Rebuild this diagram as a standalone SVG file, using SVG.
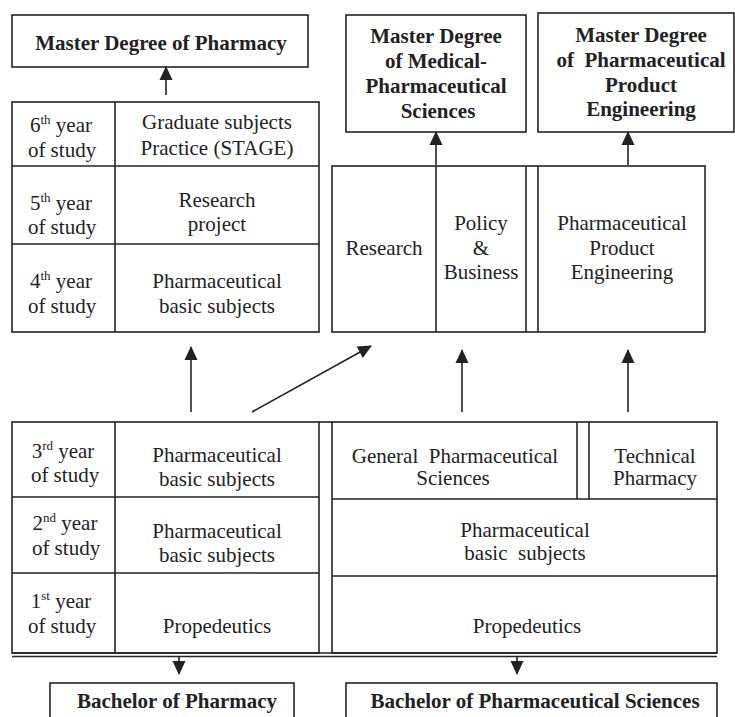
<svg xmlns="http://www.w3.org/2000/svg" width="735" height="717" viewBox="0 0 735 717">
<style>
.b{fill:#fff;stroke:#222;stroke-width:1.6}
.l{fill:none;stroke:#222;stroke-width:1.6}
.t{font-family:"Liberation Serif","Times New Roman",serif;font-size:21px;fill:#222;text-anchor:middle}
.h{font-family:"Liberation Serif","Times New Roman",serif;font-size:21px;font-weight:bold;fill:#222;text-anchor:middle}
.s{font-size:13px}
.a{fill:none;stroke:#222;stroke-width:1.6;marker-end:url(#ah)}
</style>
<defs>
<marker id="ah" markerUnits="userSpaceOnUse" markerWidth="14" markerHeight="14" viewBox="0 0 14 14" refX="13" refY="7" orient="auto">
<path d="M0,0.5 L14,7 L0,13.5 Z" fill="#222"/>
</marker>
</defs>
<rect width="735" height="717" fill="#fff"/>

<g id="master-pharmacy">
<rect class="b" x="12" y="15" width="296" height="52"/>
<text class="h" x="161" y="50">Master Degree of Pharmacy</text>
</g>

<g id="master-medical">
<rect class="b" x="346" y="15" width="180" height="117"/>
<text class="h" x="436" y="43">Master Degree</text>
<text class="h" x="436" y="68">of Medical-</text>
<text class="h" x="436" y="93">Pharmaceutical</text>
<text class="h" x="438" y="118">Sciences</text>
</g>

<g id="master-engineering">
<rect class="b" x="538" y="13" width="196" height="119"/>
<text class="h" x="641" y="42">Master Degree</text>
<text class="h" x="641" y="67" xml:space="preserve">of  Pharmaceutical</text>
<text class="h" x="641" y="92">Product</text>
<text class="h" x="641" y="116">Engineering</text>
</g>

<g id="pharmacy-upper">
<rect class="b" x="12" y="102" width="307" height="230"/>
<line class="l" x1="115" y1="102" x2="115" y2="332"/>
<line class="l" x1="12" y1="166" x2="319" y2="166"/>
<line class="l" x1="12" y1="244" x2="319" y2="244"/>
<text class="t" x="61" y="132">6<tspan class="s" dy="-8">th</tspan><tspan dy="8"> year</tspan></text>
<text class="t" x="62" y="157">of study</text>
<text class="t" x="217" y="129">Graduate subjects</text>
<text class="t" x="217" y="155">Practice (STAGE)</text>
<text class="t" x="61" y="210">5<tspan class="s" dy="-8">th</tspan><tspan dy="8"> year</tspan></text>
<text class="t" x="62" y="234">of study</text>
<text class="t" x="217" y="207">Research</text>
<text class="t" x="217" y="231">project</text>
<text class="t" x="61" y="288">4<tspan class="s" dy="-8">th</tspan><tspan dy="8"> year</tspan></text>
<text class="t" x="62" y="313">of study</text>
<text class="t" x="217" y="288">Pharmaceutical</text>
<text class="t" x="217" y="313">basic subjects</text>
</g>

<g id="sciences-upper">
<rect class="b" x="332" y="166" width="373" height="166"/>
<line class="l" x1="436" y1="166" x2="436" y2="332"/>
<line class="l" x1="526" y1="166" x2="526" y2="332"/>
<line class="l" x1="538" y1="166" x2="538" y2="332"/>
<text class="t" x="384" y="255">Research</text>
<text class="t" x="481" y="230">Policy</text>
<text class="t" x="481" y="255">&amp;</text>
<text class="t" x="481" y="279">Business</text>
<text class="t" x="622" y="230">Pharmaceutical</text>
<text class="t" x="622" y="255">Product</text>
<text class="t" x="622" y="279">Engineering</text>
</g>

<g id="pharmacy-lower">
<rect class="b" x="12" y="422" width="307" height="231"/>
<line class="l" x1="115" y1="422" x2="115" y2="653"/>
<line class="l" x1="12" y1="497" x2="319" y2="497"/>
<line class="l" x1="12" y1="573" x2="319" y2="573"/>
<text class="t" x="63" y="458">3<tspan class="s" dy="-8">rd</tspan><tspan dy="8"> year</tspan></text>
<text class="t" x="65" y="482">of study</text>
<text class="t" x="217" y="462">Pharmaceutical</text>
<text class="t" x="217" y="486">basic subjects</text>
<text class="t" x="65" y="530">2<tspan class="s" dy="-8">nd</tspan><tspan dy="8"> year</tspan></text>
<text class="t" x="66" y="555">of study</text>
<text class="t" x="217" y="538">Pharmaceutical</text>
<text class="t" x="217" y="562">basic subjects</text>
<text class="t" x="61" y="608">1<tspan class="s" dy="-8">st</tspan><tspan dy="8"> year</tspan></text>
<text class="t" x="62" y="633">of study</text>
<text class="t" x="217" y="633">Propedeutics</text>
</g>

<g id="sciences-lower">
<rect class="b" x="332" y="422" width="385" height="231"/>
<line class="l" x1="319" y1="422" x2="332" y2="422"/>
<line class="l" x1="577" y1="422" x2="577" y2="499"/>
<line class="l" x1="589" y1="422" x2="589" y2="499"/>
<line class="l" x1="332" y1="499" x2="717" y2="499"/>
<line class="l" x1="332" y1="576" x2="717" y2="576"/>
<text class="t" x="455" y="463" xml:space="preserve">General  Pharmaceutical</text>
<text class="t" x="453" y="485">Sciences</text>
<text class="t" x="655" y="463">Technical</text>
<text class="t" x="655" y="485">Pharmacy</text>
<text class="t" x="525" y="537">Pharmaceutical</text>
<text class="t" x="525" y="560" xml:space="preserve">basic  subjects</text>
<text class="t" x="527" y="633">Propedeutics</text>
</g>

<g id="base-line">
<line class="l" x1="12" y1="653" x2="717" y2="653"/>
<line class="l" x1="12" y1="656.5" x2="717" y2="656.5"/>
</g>

<g id="bachelor-pharmacy">
<rect class="b" x="50" y="683" width="244" height="40"/>
<text class="h" x="177" y="708">Bachelor of Pharmacy</text>
</g>

<g id="bachelor-sciences">
<rect class="b" x="346" y="683" width="371" height="40"/>
<text class="h" x="535" y="708">Bachelor of Pharmaceutical Sciences</text>
</g>

<g id="connectors">
<line class="a" x1="166" y1="95" x2="166" y2="67"/>
<line class="a" x1="436" y1="165" x2="436" y2="132"/>
<line class="a" x1="628" y1="165" x2="628" y2="132"/>
<line class="a" x1="191" y1="412" x2="191" y2="347"/>
<line class="a" x1="252" y1="412" x2="371" y2="346"/>
<line class="a" x1="462" y1="412" x2="462" y2="350"/>
<line class="a" x1="628" y1="412" x2="628" y2="350"/>
<line class="a" x1="179" y1="657" x2="179" y2="674"/>
<line class="a" x1="517" y1="657" x2="517" y2="674"/>
</g>
</svg>
